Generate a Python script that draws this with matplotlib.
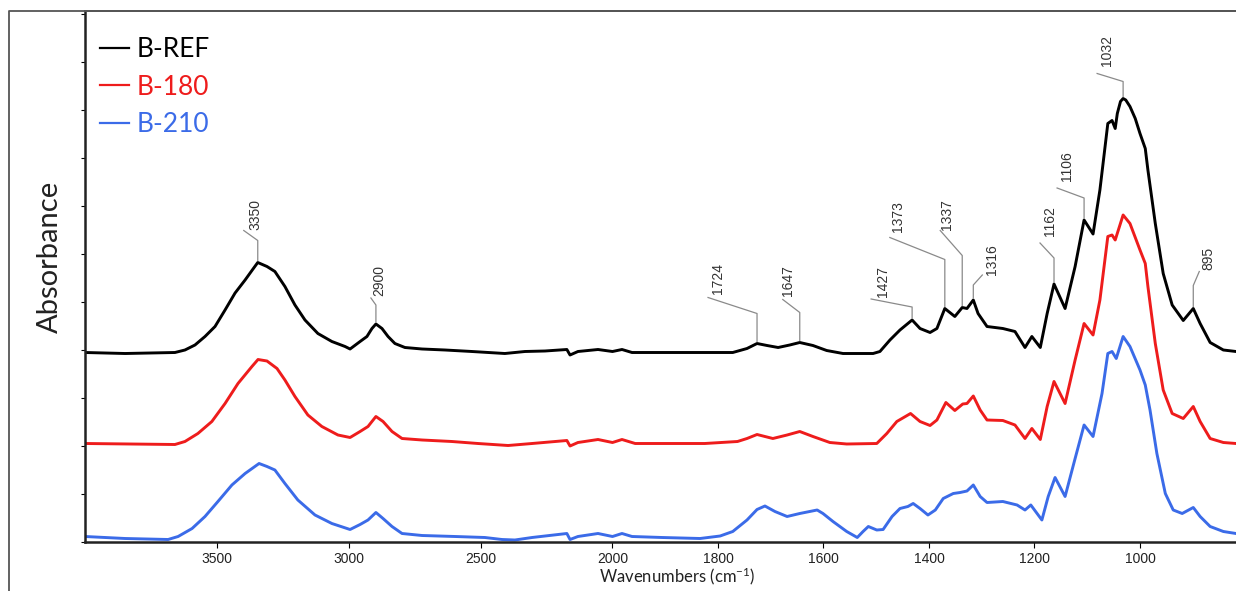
import numpy as np
import matplotlib
matplotlib.use("Agg")
import matplotlib.pyplot as plt
from matplotlib.lines import Line2D
from matplotlib.transforms import IdentityTransform

# Spectres FTIR (absorbance décalée, unités arbitraires)
wn_ref = [4000, 3848, 3659, 3621, 3583, 3545, 3507, 3469, 3431, 3393, 3363, 3345,
          3310, 3280, 3242, 3204, 3166, 3117, 3064, 3014, 2995, 2957, 2931, 2912,
          2897, 2874, 2851, 2825, 2787, 2722, 2635, 2533, 2408, 2332, 2256, 2173,
          2161, 2131, 2055, 2000, 1982, 1963, 1825, 1772, 1745, 1726, 1707, 1686,
          1664, 1645, 1620, 1594, 1563, 1506, 1493, 1474, 1455, 1432, 1417, 1398,
          1385, 1370, 1351, 1337, 1328, 1316, 1307, 1290, 1260, 1237, 1218, 1205,
          1189, 1176, 1163, 1142, 1123, 1106, 1089, 1076, 1061, 1053, 1047, 1043,
          1037, 1032, 1027, 1019, 1009, 1000, 990, 985, 971, 956, 939, 918, 899,
          886, 867, 842, 818]
abs_ref = [0.379, 0.377, 0.379, 0.384, 0.394, 0.411, 0.431, 0.464, 0.498, 0.524, 0.546, 0.559,
           0.551, 0.541, 0.511, 0.474, 0.444, 0.417, 0.401, 0.391, 0.386, 0.401, 0.411, 0.427,
           0.436, 0.427, 0.411, 0.397, 0.389, 0.386, 0.384, 0.381, 0.377, 0.381, 0.382, 0.385,
           0.374, 0.381, 0.385, 0.381, 0.385, 0.379, 0.379, 0.379, 0.387, 0.397, 0.393, 0.389,
           0.394, 0.399, 0.393, 0.383, 0.377, 0.377, 0.381, 0.404, 0.424, 0.444, 0.427, 0.419,
           0.427, 0.467, 0.451, 0.469, 0.467, 0.484, 0.457, 0.431, 0.427, 0.421, 0.389, 0.411,
           0.389, 0.457, 0.516, 0.467, 0.551, 0.644, 0.616, 0.704, 0.837, 0.843, 0.827, 0.857,
           0.881, 0.887, 0.884, 0.871, 0.847, 0.817, 0.787, 0.744, 0.637, 0.537, 0.474, 0.443, 0.467,
           0.437, 0.399, 0.384, 0.381]

wn_180 = [4000, 3659, 3621, 3572, 3519, 3469, 3420, 3367, 3344, 3310, 3272, 3242,
          3204, 3155, 3102, 3041, 2995, 2957, 2927, 2897, 2870, 2836, 2798, 2722,
          2609, 2510, 2396, 2305, 2173, 2161, 2131, 2055, 2000, 1982, 1957, 1825,
          1763, 1745, 1726, 1696, 1669, 1645, 1620, 1588, 1556, 1499, 1480, 1461,
          1435, 1417, 1398, 1385, 1368, 1351, 1336, 1328, 1316, 1303, 1290, 1260,
          1237, 1218, 1205, 1189, 1176, 1163, 1142, 1123, 1106, 1089, 1076, 1061,
          1053, 1047, 1032, 1019, 1000, 990, 985, 971, 956, 939, 918, 899, 886,
          867, 842, 818]
abs_180 = [0.197, 0.195, 0.201, 0.217, 0.241, 0.277, 0.317, 0.351, 0.365, 0.362, 0.347, 0.324,
           0.291, 0.254, 0.231, 0.214, 0.209, 0.221, 0.231, 0.251, 0.241, 0.221, 0.207, 0.204,
           0.201, 0.197, 0.193, 0.197, 0.203, 0.192, 0.199, 0.205, 0.199, 0.205, 0.197, 0.197,
           0.201, 0.207, 0.215, 0.207, 0.214, 0.221, 0.211, 0.199, 0.196, 0.197, 0.217, 0.241,
           0.257, 0.241, 0.233, 0.244, 0.279, 0.263, 0.276, 0.277, 0.292, 0.264, 0.244, 0.243,
           0.234, 0.207, 0.227, 0.205, 0.271, 0.321, 0.277, 0.364, 0.437, 0.414, 0.484, 0.611,
           0.614, 0.604, 0.654, 0.637, 0.584, 0.557, 0.511, 0.397, 0.304, 0.257, 0.247, 0.271, 0.241,
           0.207, 0.199, 0.197]

wn_210 = [4000, 3848, 3685, 3647, 3594, 3545, 3496, 3443, 3393, 3340, 3310, 3280,
          3242, 3193, 3128, 3064, 2995, 2957, 2927, 2897, 2870, 2836, 2798, 2722,
          2597, 2484, 2419, 2370, 2305, 2173, 2161, 2131, 2055, 2000, 1982, 1963,
          1906, 1834, 1796, 1772, 1745, 1726, 1711, 1692, 1669, 1645, 1612, 1601,
          1582, 1556, 1536, 1525, 1515, 1499, 1487, 1470, 1455, 1440, 1430, 1417,
          1402, 1388, 1373, 1354, 1341, 1328, 1316, 1303, 1290, 1260, 1233, 1218,
          1207, 1186, 1174, 1161, 1142, 1123, 1106, 1089, 1072, 1061, 1053, 1045,
          1032, 1019, 1000, 990, 981, 968, 952, 937, 920, 899, 886, 867, 842, 818]
abs_210 = [0.011, 0.007, 0.005, 0.011, 0.027, 0.051, 0.081, 0.114, 0.137, 0.157, 0.151, 0.144,
           0.117, 0.084, 0.054, 0.037, 0.025, 0.035, 0.044, 0.059, 0.047, 0.031, 0.017, 0.013,
           0.011, 0.009, 0.005, 0.004, 0.009, 0.017, 0.005, 0.011, 0.017, 0.011, 0.017, 0.011,
           0.009, 0.007, 0.012, 0.021, 0.044, 0.065, 0.072, 0.061, 0.051, 0.057, 0.064, 0.057,
           0.041, 0.021, 0.009, 0.021, 0.031, 0.024, 0.025, 0.051, 0.067, 0.071, 0.077, 0.067,
           0.054, 0.064, 0.087, 0.097, 0.099, 0.102, 0.114, 0.091, 0.079, 0.081, 0.074, 0.064,
           0.074, 0.044, 0.091, 0.129, 0.091, 0.167, 0.234, 0.211, 0.297, 0.377, 0.381, 0.367,
           0.411, 0.391, 0.344, 0.314, 0.264, 0.177, 0.097, 0.064, 0.057, 0.069, 0.051, 0.031,
           0.021, 0.017]

series_names = ['B-REF', 'B-180', 'B-210']
series_colors = ['#000000', '#ee1c1c', '#3b6be8']

# Pics annotés sur B-REF
peak_pos = [3345, 2897, 1726, 1645, 1432, 1370, 1337, 1316, 1163, 1106, 1032, 899]
peak_text = ['3350', '2900', '1724', '1647', '1427', '1373', '1337', '1316',
             '1162', '1106', '1032', '895']

x_ticks = [3500, 3000, 2500, 2000, 1800, 1600, 1400, 1200, 1000]

# mise en page des étiquettes (pixels) : montée verticale, fin du trait oblique, décalage du texte
knee_up = [20, 17, 28, 28, 11, 47, 50, 13, 24, 20, 15, 21]
end_dx = [-14, -5, -49, -17, -41, -55, -22, 9, -14, -27, -26, 6]
end_up = [30, 24, 44, 41, 19, 69, 75, 23, 39, 30, 23, 35]
txt_dx = [5, 1, 3, -2, 5, 1, 0, 3, 3, 3, 3, 2]
txt_dy = [1, 2, 4, 4, 2, 5, 0, 0, 7, 7, 7, 1]

W, H = 1236, 591
fig = plt.figure(figsize=(W / 100, H / 100), dpi=100)
plt.rcParams['mathtext.default'] = 'regular'
ax = fig.add_axes([85 / W, (H - 542) / H, (W - 85) / W, (542 - 11) / H])


# axe des nombres d'onde étendu x2 sous 2000 cm-1 (style OMNIC)
def fwd(x):
    x = np.asarray(x, dtype=float)
    return np.where(x > 2000, 2000 + (x - 2000) / 2.0, x)


def inv(y):
    y = np.asarray(y, dtype=float)
    return np.where(y > 2000, 2000 + (y - 2000) * 2.0, y)


ax.set_xscale('function', functions=(fwd, inv))

for wn, ab, name, col in zip([wn_ref, wn_180, wn_210], [abs_ref, abs_180, abs_210],
                             series_names, series_colors):
    ax.plot(wn, ab, color=col, lw=2.1, label=name, solid_joinstyle='round')

ax.set_xlim(4000, 818)
ax.set_ylim(0, 1.062)
ax.set_xticks(x_ticks)
ax.set_xticklabels([str(t) for t in x_ticks], fontfamily='Liberation Sans', fontsize=10, color='#222222')
ax.set_yticks(np.arange(0, 1.06, 0.096))
ax.set_yticklabels([])
ax.xaxis.set_minor_locator(matplotlib.ticker.NullLocator())
ax.tick_params(axis='x', direction='out', length=4, width=0.8, pad=3)
ax.tick_params(axis='y', direction='out', length=3, width=0.8)

for s in ['left', 'bottom']:
    ax.spines[s].set_linewidth(1.8)
    ax.spines[s].set_color('#222222')
ax.spines['top'].set_linewidth(1.3)
ax.spines['top'].set_color('#555555')
ax.spines['right'].set_visible(False)

ax.set_xlabel('Wavenumbers (cm$^{-1}$)', fontfamily='Lato', fontsize=12, color='#222222')
ax.xaxis.set_label_coords((677 - 85) / (W - 85), -0.045)
ax.set_ylabel('Absorbance', fontfamily='Lato', fontsize=21, color='#222222')
ax.yaxis.set_label_coords(-0.019, 0.537)

leg = ax.legend(loc='upper left', bbox_to_anchor=(100 / W, 1 - 37 / H), bbox_transform=fig.transFigure,
                frameon=False, borderpad=0, borderaxespad=0, handlelength=1.1, handletextpad=0.3,
                labelspacing=0.48, prop={'family': 'Lato', 'size': 19}, labelcolor='linecolor')
for h in leg.get_lines():
    h.set_linewidth(1.6)

# cadre extérieur (bord gauche et haut)
fig.add_artist(Line2D([9 / W, 9 / W, 1.0], [0, 1 - 11 / H, 1 - 11 / H], color='#555555', lw=1.3))

# étiquettes des pics
for i in range(len(peak_pos)):
    y_pk = np.interp(peak_pos[i], wn_ref[::-1], abs_ref[::-1])
    px, py = ax.transData.transform((peak_pos[i], y_pk))
    py += 2
    ex, ey = px + end_dx[i], py + end_up[i]
    ln = Line2D([px, px, ex], [py, py + knee_up[i], ey], color='#8a8a8a', lw=0.9)
    ln.set_transform(IdentityTransform())
    fig.add_artist(ln)
    fig.text(ex + txt_dx[i], ey + txt_dy[i], peak_text[i], transform=IdentityTransform(),
             rotation=90, ha='left', va='bottom', fontsize=10, fontfamily='Liberation Sans',
             color='#333333')

fig.savefig('out.png', dpi=100)
